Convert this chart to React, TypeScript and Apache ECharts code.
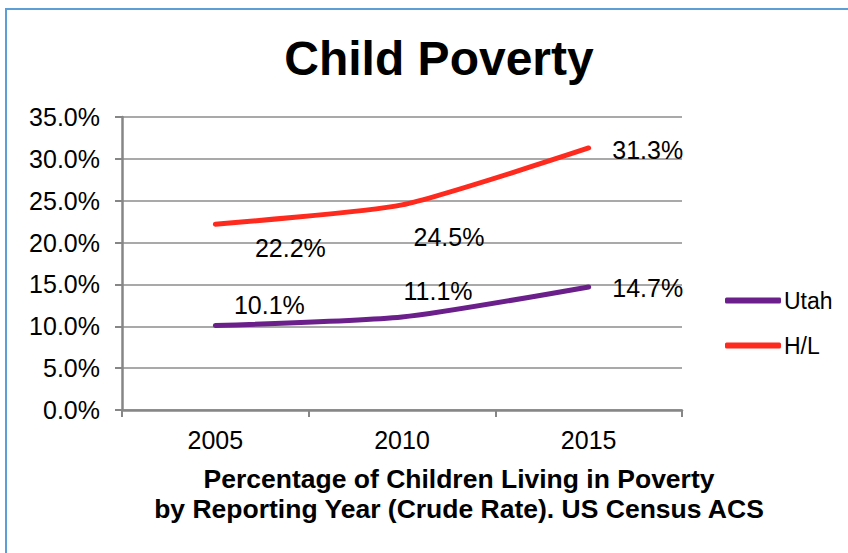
import React, { useEffect, useRef } from "react";
import * as echarts from "echarts";

const years = ["2005", "2010", "2015"];
const utah = [10.1, 11.1, 14.7];
const hl = [22.2, 24.5, 31.3];
const seriesNames = ["Utah", "H/L"];
const titleText = "Child Poverty";
const xAxisTitle = "Percentage of Children Living in Poverty\nby Reporting Year (Crude Rate). US Census ACS";

// label placement (styling only)
const utahLabelOffsets = [[54, -20], [36, -26], [59, 1]];
const hlLabelOffsets = [[75, 24], [47, 32], [59, 2]];

const FONT = "'Liberation Sans', Arial, sans-serif";

export default function App() {
  const ref = useRef<HTMLDivElement>(null);
  useEffect(() => {
    if (!ref.current) return;
    const chart = echarts.init(ref.current, undefined, { renderer: "svg" });
    const mkData = (vals: number[], offs: number[][]) =>
      vals.map((v, i) => ({
        value: v,
        label: { offset: offs[i] },
      }));
    const labelStyle = {
      show: true,
      position: "inside",
      formatter: (p: any) => p.value.toFixed(1) + "%",
      fontSize: 25,
      color: "#000",
      fontFamily: FONT,
    };
    chart.setOption({
      animation: false,
      backgroundColor: "#fff",
      textStyle: { fontFamily: FONT },
      title: {
        text: titleText,
        left: 434,
        top: 29,
        textAlign: "center",
        textStyle: { fontSize: 48, fontWeight: "bold", color: "#000", fontFamily: FONT },
      },
      graphic: [
        {
          type: "rect",
          shape: { x: 6, y: 9, width: 900, height: 600 },
          style: { fill: "none", stroke: "#5b9fd6", lineWidth: 2 },
          silent: true,
        },
      ],
      legend: {
        orient: "vertical",
        left: 720,
        top: 284,
        itemWidth: 56,
        itemHeight: 6,
        itemGap: 22,
        icon: "roundRect",
        textStyle: { fontSize: 23, color: "#000", fontFamily: FONT, padding: [0, 0, 0, -2] },
        data: seriesNames,
      },
      grid: { left: 122, right: 166, top: 117, bottom: 143 },
      xAxis: {
        type: "category",
        data: years,
        boundaryGap: true,
        axisLine: { lineStyle: { color: "#868686", width: 2.5 } },
        axisTick: { show: true, length: 7, lineStyle: { color: "#868686", width: 2 } },
        axisLabel: { fontSize: 25, color: "#000", margin: 17, fontFamily: FONT },
        name: xAxisTitle,
        nameLocation: "middle",
        nameGap: 54,
        nameTextStyle: {
          fontSize: 26.5,
          fontWeight: "bold",
          color: "#000",
          lineHeight: 30,
          fontFamily: FONT,
          align: "center",
          padding: [0, 0, 0, 114],
        },
      },
      yAxis: {
        type: "value",
        min: 0,
        max: 35,
        interval: 5,
        axisLine: { show: true, lineStyle: { color: "#868686", width: 2.5 } },
        axisTick: { show: true, length: 7, lineStyle: { color: "#868686", width: 2 } },
        axisLabel: {
          fontSize: 25,
          color: "#000",
          margin: 22,
          fontFamily: FONT,
          formatter: (v: number) => v.toFixed(1) + "%",
        },
        splitLine: { show: true, lineStyle: { color: "#8c8c8c", width: 1.5 } },
      },
      series: [
        {
          name: seriesNames[0],
          type: "line",
          data: mkData(utah, utahLabelOffsets),
          smooth: 0.2,
          symbol: "circle",
          symbolSize: 1,
          color: "#6a1f8a",
          lineStyle: { width: 5, color: "#6a1f8a", cap: "round" },
          itemStyle: { color: "#6a1f8a" },
          label: labelStyle,
          z: 3,
        },
        {
          name: seriesNames[1],
          type: "line",
          data: mkData(hl, hlLabelOffsets),
          smooth: 0.2,
          symbol: "circle",
          symbolSize: 1,
          color: "#ff2a1e",
          lineStyle: { width: 5, color: "#ff2a1e", cap: "round" },
          itemStyle: { color: "#ff2a1e" },
          label: labelStyle,
          z: 3,
        },
      ],
    });
    return () => chart.dispose();
  }, []);
  return (
    <div
      ref={ref}
      style={{ position: "fixed", left: 0, top: 0, width: 848, height: 553 }}
    />
  );
}
